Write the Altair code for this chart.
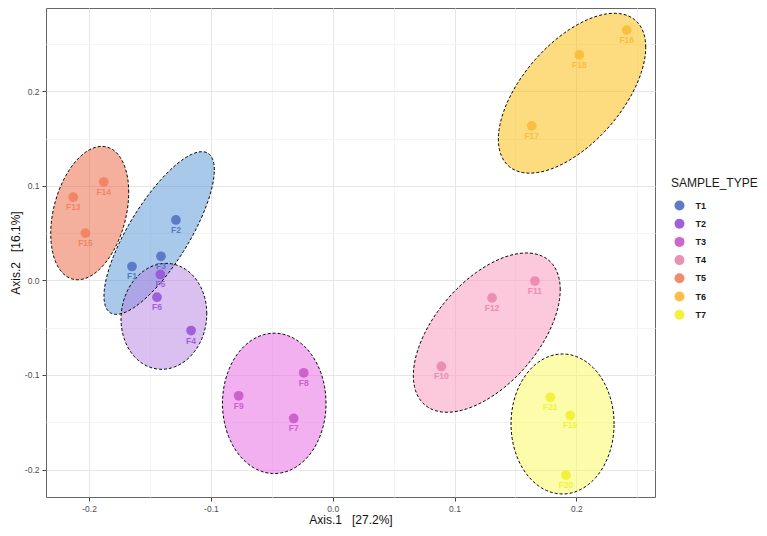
import numpy as np
import pandas as pd
import altair as alt

# ---- data ----
sample_ids = ["F1", "F2", "F3", "F4", "F5", "F6", "F7", "F8", "F9", "F10", "F11",
              "F12", "F13", "F14", "F15", "F16", "F17", "F18", "F19", "F20", "F21"]
sample_types = ["T1", "T1", "T1", "T2", "T2", "T2", "T3", "T3", "T3", "T4", "T4",
                "T4", "T5", "T5", "T5", "T6", "T6", "T6", "T7", "T7", "T7"]
axis1 = [-0.1648, -0.1287, -0.1410, -0.1163, -0.1415, -0.1443, -0.0320, -0.0238, -0.0772,
         0.0892, 0.1660, 0.1308, -0.2130, -0.1880, -0.2030, 0.2414, 0.1634, 0.2025,
         0.1950, 0.1915, 0.1787]
axis2 = [0.0147, 0.0639, 0.0255, -0.0530, 0.0063, -0.0178, -0.1460, -0.0977, -0.1220,
         -0.0910, -0.0007, -0.0185, 0.0880, 0.1040, 0.0500, 0.2646, 0.1634, 0.2384,
         -0.1428, -0.2060, -0.1236]

groups = ["T1", "T2", "T3", "T4", "T5", "T6", "T7"]
# ellipse: centre, half extent in x and y, tilt (y offset of rightmost point / half height)
ell_groups = ["E1", "E2", "E3", "E4", "E5", "E6", "E7"]
ell_cx = [-0.1425, -0.1386, -0.0480, 0.1265, -0.1995, 0.1965, 0.1887]
ell_cy = [0.0501, -0.0380, -0.1300, -0.0552, 0.0712, 0.1979, -0.1518]
ell_hx = [0.0453, 0.0352, 0.0425, 0.0603, 0.0320, 0.0605, 0.0423]
ell_hy = [0.0860, 0.0560, 0.0742, 0.0842, 0.0705, 0.0845, 0.0740]
ell_k = [0.775, 0.05, 0.0, 0.54, 0.31, 0.575, 0.0]

point_colors = ["#4f6cc4", "#9450d6", "#c655c8", "#e884aa", "#f07e5c", "#fbb832", "#f0f02a"]
fill_colors = ["#5494d6", "#b382e2", "#e561e1", "#f992ba", "#e9613a", "#fbba02", "#fbf956"]

x_ticks = [-0.2, -0.15, -0.1, -0.05, 0.0, 0.05, 0.1, 0.15, 0.2, 0.25]
y_ticks = [-0.2, -0.15, -0.1, -0.05, 0.0, 0.05, 0.1, 0.15, 0.2, 0.25]
x_domain = [-0.2354, 0.2646]
y_domain = [-0.229, 0.288]

# ---- tables ----
pts = pd.DataFrame({"id": sample_ids, "SAMPLE_TYPE": sample_types, "a1": axis1, "a2": axis2})

area_rows, line_rows = [], []
for g, cx, cy, hx, hy, k in zip(ell_groups, ell_cx, ell_cy, ell_hx, ell_hy, ell_k):
    phi = np.arccos(k)
    for t in np.linspace(0, np.pi, 90):
        area_rows.append({"g": g, "x": cx + hx * np.cos(t),
                          "y": cy + hy * np.cos(t - phi), "y2": cy + hy * np.cos(t + phi)})
    for i, t in enumerate(np.linspace(0, 2 * np.pi, 181)):
        line_rows.append({"g": g, "i": i, "x": cx + hx * np.cos(t), "y": cy + hy * np.cos(t - phi)})
area_df = pd.DataFrame(area_rows)
line_df = pd.DataFrame(line_rows)

minor = "abs(datum.value*10 - round(datum.value*10)) > 0.001"
lab = f"{minor} ? '' : (datum.value < -0.001 ? '-' : '') + format(abs(datum.value), '.1f')"

def mk_axis(title, ticks, **kw):
    return alt.Axis(values=ticks, title=title, labelExpr=lab, labelFont="Liberation Sans",
                    labelFontSize=8.5, labelColor="#4d4d4d", labelFlush=False, labelOverlap=False,
                    tickSize=4, tickColor={"condition": {"test": minor, "value": "transparent"}, "value": "#444444"},
                    gridColor={"condition": {"test": minor, "value": "#f4f4f4"}, "value": "#e6e6e6"},
                    gridWidth=1, domain=False, titleFont="Liberation Sans", titleFontSize=12,
                    titleFontWeight="normal", titleColor="#111111", **kw)

xs = alt.Scale(domain=x_domain, nice=False, zero=False)
ys = alt.Scale(domain=y_domain, nice=False, zero=False)
X_title = "Axis.1\u00a0\u00a0\u00a0[27.2%]"
Y_title = "Axis.2\u00a0\u00a0\u00a0[16.1%]"

area = alt.Chart(area_df).mark_area(fillOpacity=0.5, strokeWidth=0).encode(
    x=alt.X("x:Q", scale=xs, axis=mk_axis(X_title, x_ticks, labelPadding=3, titlePadding=2)),
    y=alt.Y("y:Q", scale=ys, axis=mk_axis(Y_title, y_ticks, labelPadding=3, titlePadding=2)),
    y2="y2:Q",
    fill=alt.Fill("g:N", scale=alt.Scale(domain=ell_groups, range=fill_colors), legend=None),
    detail="g:N",
)

outline = alt.Chart(line_df).mark_line(color="black", strokeWidth=1, strokeDash=[3, 2]).encode(
    x=alt.X("x:Q", scale=xs), y=alt.Y("y:Q", scale=ys), detail="g:N", order="i:Q")

legend = alt.Legend(title="SAMPLE_TYPE", orient="none", legendX=625, legendY=170,
                    symbolType="circle", symbolSize=100, symbolOpacity=0.9,
                    symbolStrokeWidth=0, rowPadding=8.2, labelOffset=11, symbolOffset=3.5,
                    titleFont="Liberation Sans", titleFontSize=12,
                    titleFontWeight="normal", titleColor="#1a1a1a", titlePadding=10.5,
                    labelFont="Liberation Sans", labelFontSize=9,
                    labelFontWeight="bold", labelColor="#1a1a1a")
color = alt.Color("SAMPLE_TYPE:N", scale=alt.Scale(domain=groups, range=point_colors), legend=legend)

points = alt.Chart(pts).mark_circle(size=95, opacity=0.85).encode(
    x=alt.X("a1:Q", scale=xs), y=alt.Y("a2:Q", scale=ys), color=color)

labels = alt.Chart(pts).mark_text(dy=10, fontSize=8.5, fontWeight="bold", font="Liberation Sans",
                                  opacity=0.85, baseline="middle").encode(
    x=alt.X("a1:Q", scale=xs), y=alt.Y("a2:Q", scale=ys), text="id:N", color=color)

chart = alt.layer(area, outline, points, labels).properties(
    width=609, height=489,
    padding={"left": 38, "top": 0, "right": 104, "bottom": 31},
    autosize=alt.AutoSizeParams(type="none"),
).configure_view(stroke="#666666", strokeWidth=1)

chart.save("out.html", embed_options={"renderer": "svg", "actions": False})
